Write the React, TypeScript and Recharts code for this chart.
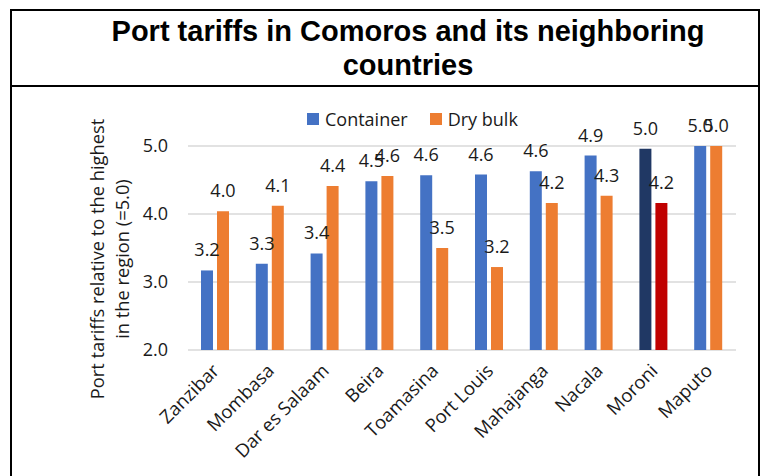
import React from 'react';
import { BarChart, Bar, XAxis, YAxis, CartesianGrid, LabelList, Cell } from 'recharts';

const categories = ['Zanzibar', 'Mombasa', 'Dar es Salaam', 'Beira', 'Toamasina', 'Port Louis', 'Mahajanga', 'Nacala', 'Moroni', 'Maputo'];
const containerValues = [3.17, 3.27, 3.42, 4.48, 4.57, 4.58, 4.63, 4.86, 4.96, 5.0];
const dryBulkValues = [4.04, 4.12, 4.41, 4.56, 3.5, 3.22, 4.16, 4.27, 4.16, 5.0];
const yTicks = [2, 3, 4, 5];
const highlightCategory = 'Moroni';
const seriesNames = ['Container', 'Dry bulk'];
const titleText = 'Port tariffs in Comoros and its neighboring countries';
const yLabelLines = ['Port tariffs relative to the highest', 'in the region (=5.0)'];

const BLUE = '#4472C4';
const ORANGE = '#ED7D31';
const NAVY = '#203864';
const RED = '#C00000';
const FONT = "'Open Sans', sans-serif";
const TEXT = '#1a1a1a';

const data = categories.map((c, i) => ({ name: c, container: containerValues[i], dryBulk: dryBulkValues[i] }));

const fmt = (v: any) => Number(v).toFixed(1);

const XTick = (props: any) => {
  const { x, y, payload } = props;
  return (
    <g transform={`translate(${x + 5},${y + 22})`}>
      <text textAnchor="end" transform="rotate(-45)" fontSize={18.5} fontFamily={FONT} fill={TEXT}>
        {payload.value}
      </text>
    </g>
  );
};

const YLabel = () => (
  <text transform="translate(104,259) rotate(-90)" textAnchor="middle" fontSize={18.3} fontFamily={FONT} fill={TEXT}>
    <tspan x={0} y={0}>{yLabelLines[0]}</tspan>
    <tspan x={0} y={25}>{yLabelLines[1]}</tspan>
  </text>
);

export default function App() {
  return (
    <div style={{ position: 'absolute', left: 0, top: 0, width: 763, height: 476, background: '#fff', overflow: 'hidden' }}>
      <div style={{ position: 'absolute', left: 10, top: 9, width: 746, height: 480, borderLeft: '2px solid #000', borderRight: '2px solid #000', borderTop: '2px solid #000' }} />
      <div style={{ position: 'absolute', left: 10, top: 85, width: 750, height: 2, background: '#000' }} />
      <div style={{ position: 'absolute', left: 98, top: 14, width: 620, textAlign: 'center', fontFamily: "'Liberation Sans', Arial, sans-serif", fontWeight: 'bold', fontSize: 29, lineHeight: '34px', color: '#000' }}>
        {titleText}
      </div>
      <div style={{ position: 'absolute', left: 307, top: 108, display: 'flex', alignItems: 'center', fontFamily: FONT, fontSize: 18, color: TEXT, lineHeight: '22px' }}>
        <span style={{ width: 12, height: 12, background: BLUE, display: 'inline-block', marginRight: 6 }} />
        <span style={{ marginRight: 22 }}>{seriesNames[0]}</span>
        <span style={{ width: 12, height: 12, background: ORANGE, display: 'inline-block', marginRight: 6 }} />
        <span>{seriesNames[1]}</span>
      </div>
      <div style={{ position: 'absolute', left: 0, top: 0 }}>
        <BarChart width={763} height={476} data={data} margin={{ top: 146, right: 27, bottom: 26, left: 128 }} barSize={12} barGap={4}>
          <CartesianGrid vertical={false} stroke="#d9d9d9" strokeWidth={1.5} />
          <XAxis dataKey="name" axisLine={false} tickLine={false} tickSize={0} tickMargin={0} height={100} interval={0} tick={<XTick />} />
          <YAxis
            domain={[2, 5]}
            ticks={yTicks}
            tickFormatter={fmt}
            axisLine={false}
            tickLine={false}
            tickSize={0}
            tickMargin={20}
            width={60}
            tick={{ fontSize: 18, fontFamily: FONT, fill: TEXT }}
            label={{ content: () => <YLabel /> }}
          />
          <Bar dataKey="container" name={seriesNames[0]} fill={BLUE} isAnimationActive={false}>
            {data.map((d) => (
              <Cell key={d.name} fill={d.name === highlightCategory ? NAVY : BLUE} />
            ))}
            <LabelList dataKey="container" position="top" offset={14} formatter={fmt} fontSize={18} fontFamily={FONT} fill={TEXT} />
          </Bar>
          <Bar dataKey="dryBulk" name={seriesNames[1]} fill={ORANGE} isAnimationActive={false}>
            {data.map((d) => (
              <Cell key={d.name} fill={d.name === highlightCategory ? RED : ORANGE} />
            ))}
            <LabelList dataKey="dryBulk" position="top" offset={14} formatter={fmt} fontSize={18} fontFamily={FONT} fill={TEXT} />
          </Bar>
        </BarChart>
      </div>
    </div>
  );
}
